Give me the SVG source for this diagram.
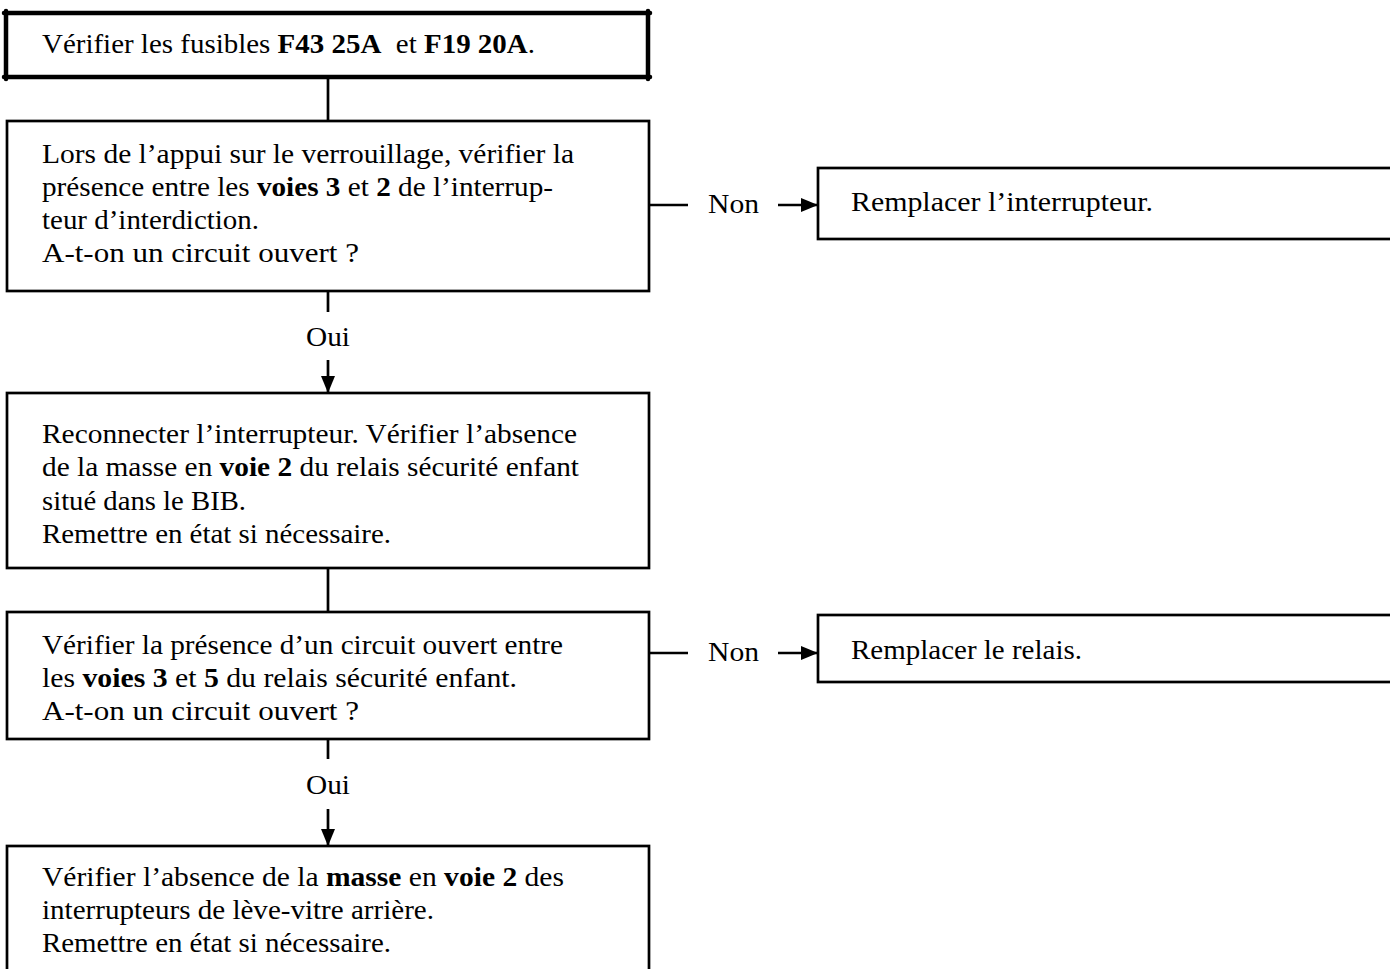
<svg xmlns="http://www.w3.org/2000/svg" width="1390" height="969" viewBox="0 0 1390 969">
  <defs>
    <marker id="arrow" viewBox="0 0 17 14" refX="17" refY="7" markerWidth="17" markerHeight="14" markerUnits="userSpaceOnUse" orient="auto">
      <path d="M0,0 L17,7 L0,14 Z" fill="#000"/>
    </marker>
    <style>
      .box { fill: #fff; stroke: #000; stroke-width: 2.7; }
      .thick { stroke: #000; stroke-width: 4.5; stroke-linecap: round; }
      .t { font-family: "Liberation Serif", "Times New Roman", serif; font-size: 27px; fill: #000; }
      .b { font-weight: bold; }
      .edge { stroke: #000; stroke-width: 2.7; fill: none; }
      .lbl { font-family: "Liberation Serif", "Times New Roman", serif; font-size: 27px; fill: #000; }
    </style>
  </defs>

  <rect width="1390" height="969" fill="#fff"/>

  <!-- connectors -->
  <g id="connectors">
    <line class="edge" x1="328" y1="77" x2="328" y2="121"/>
    <line class="edge" x1="645" y1="205" x2="688" y2="205"/>
    <line class="edge" x1="778" y1="205" x2="818" y2="205" marker-end="url(#arrow)"/>
    <line class="edge" x1="328" y1="291" x2="328" y2="312"/>
    <line class="edge" x1="328" y1="360" x2="328" y2="393" marker-end="url(#arrow)"/>
    <line class="edge" x1="328" y1="568" x2="328" y2="612"/>
    <line class="edge" x1="645" y1="653" x2="688" y2="653"/>
    <line class="edge" x1="778" y1="653" x2="818" y2="653" marker-end="url(#arrow)"/>
    <line class="edge" x1="328" y1="739" x2="328" y2="759"/>
    <line class="edge" x1="328" y1="809" x2="328" y2="846" marker-end="url(#arrow)"/>
    <text class="lbl" x="708" y="213" textLength="51" lengthAdjust="spacingAndGlyphs">Non</text>
    <text class="lbl" x="306" y="346" textLength="44" lengthAdjust="spacingAndGlyphs">Oui</text>
    <text class="lbl" x="708" y="661" textLength="51" lengthAdjust="spacingAndGlyphs">Non</text>
    <text class="lbl" x="306" y="794" textLength="44" lengthAdjust="spacingAndGlyphs">Oui</text>
  </g>

  <!-- start: fuses -->
  <g id="n-fusibles">
    <rect x="6" y="13" width="642" height="64" fill="#fff"/>
    <line class="thick" x1="4" y1="13" x2="650" y2="13"/>
    <line class="thick" x1="4" y1="77" x2="650" y2="77"/>
    <line class="thick" x1="6" y1="11" x2="6" y2="79"/>
    <line class="thick" x1="648" y1="11" x2="648" y2="79"/>
    <text class="t" x="42" y="53" xml:space="preserve" textLength="493" lengthAdjust="spacingAndGlyphs">Vérifier les fusibles <tspan class="b">F43 25A</tspan>  et <tspan class="b">F19 20A</tspan>.</text>
  </g>

  <g id="n-interrupteur">
    <rect class="box" x="7" y="121" width="642" height="170"/>
    <text class="t" x="42" y="163" textLength="532" lengthAdjust="spacingAndGlyphs">Lors de l’appui sur le verrouillage, vérifier la</text>
    <text class="t" x="42" y="196" textLength="511" lengthAdjust="spacingAndGlyphs">présence entre les <tspan class="b">voies 3</tspan> et <tspan class="b">2</tspan> de l’interrup-</text>
    <text class="t" x="42" y="229" textLength="217" lengthAdjust="spacingAndGlyphs">teur d’interdiction.</text>
    <text class="t" x="42" y="262" textLength="317" lengthAdjust="spacingAndGlyphs">A-t-on un circuit ouvert ?</text>
  </g>

  <g id="n-remplacer-interrupteur">
    <rect class="box" x="818" y="168" width="580" height="71"/>
    <text class="t" x="851" y="211" textLength="302" lengthAdjust="spacingAndGlyphs">Remplacer l’interrupteur.</text>
  </g>

  <g id="n-masse-bib">
    <rect class="box" x="7" y="393" width="642" height="175"/>
    <text class="t" x="42" y="443" textLength="535" lengthAdjust="spacingAndGlyphs">Reconnecter l’interrupteur. Vérifier l’absence</text>
    <text class="t" x="42" y="476" textLength="537" lengthAdjust="spacingAndGlyphs">de la masse en <tspan class="b">voie 2</tspan> du relais sécurité enfant</text>
    <text class="t" x="42" y="510" textLength="204" lengthAdjust="spacingAndGlyphs">situé dans le BIB.</text>
    <text class="t" x="42" y="543" textLength="349" lengthAdjust="spacingAndGlyphs">Remettre en état si nécessaire.</text>
  </g>

  <g id="n-relais">
    <rect class="box" x="7" y="612" width="642" height="127"/>
    <text class="t" x="42" y="654" textLength="521" lengthAdjust="spacingAndGlyphs">Vérifier la présence d’un circuit ouvert entre</text>
    <text class="t" x="42" y="687" textLength="475" lengthAdjust="spacingAndGlyphs">les <tspan class="b">voies 3</tspan> et <tspan class="b">5</tspan> du relais sécurité enfant.</text>
    <text class="t" x="42" y="720" textLength="317" lengthAdjust="spacingAndGlyphs">A-t-on un circuit ouvert ?</text>
  </g>

  <g id="n-remplacer-relais">
    <rect class="box" x="818" y="615" width="580" height="67"/>
    <text class="t" x="851" y="659" textLength="231" lengthAdjust="spacingAndGlyphs">Remplacer le relais.</text>
  </g>

  <g id="n-leve-vitre">
    <rect class="box" x="7" y="846" width="642" height="132"/>
    <text class="t" x="42" y="886" textLength="522" lengthAdjust="spacingAndGlyphs">Vérifier l’absence de la <tspan class="b">masse</tspan> en <tspan class="b">voie 2</tspan> des</text>
    <text class="t" x="42" y="919" textLength="392" lengthAdjust="spacingAndGlyphs">interrupteurs de lève-vitre arrière.</text>
    <text class="t" x="42" y="952" textLength="349" lengthAdjust="spacingAndGlyphs">Remettre en état si nécessaire.</text>
  </g>
</svg>
